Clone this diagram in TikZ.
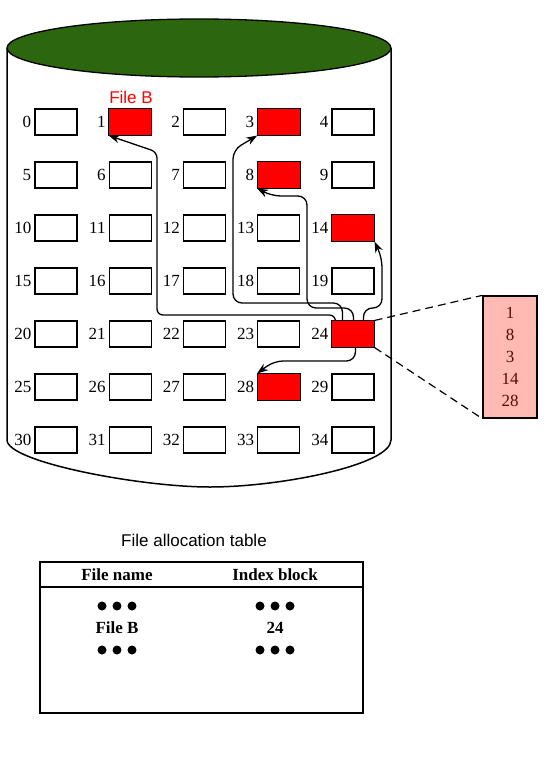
\documentclass[tikz,border=0pt]{standalone}
\usepackage{fontspec}
\setmainfont{Liberation Serif}
\newfontfamily\sansf{Liberation Sans}
\usetikzlibrary{arrows.meta}
\definecolor{topgreen}{RGB}{44,102,14}
\definecolor{pinkfill}{RGB}{255,186,180}
\definecolor{maroon}{RGB}{90,8,8}
\begin{document}
\begin{tikzpicture}[x=1pt,y=-1pt,
  cell/.style={draw=black, line width=1.1pt, minimum width=42pt, minimum height=26pt, inner sep=0pt, fill=white},
  num/.style={anchor=east, inner sep=0pt, font=\fontsize{17}{17}\selectfont},
  link/.style={line width=1.3pt, rounded corners=9pt, -{Stealth[length=11pt,width=8pt]}},
  dashlink/.style={line width=1.2pt, dash pattern=on 8pt off 5pt},
  bold17/.style={font=\bfseries\fontsize{17}{17}\selectfont},
  dot/.style={fill=black}
]
\useasboundingbox (0,0) rectangle (551,771);
% cylinder body
\draw[line width=1.5pt, fill=white] (7,48) -- (7,440)
  .. controls (7,462) and (140,487) .. (210,487)
  .. controls (280,487) and (391,465) .. (391,440) -- (391,48);
\draw[line width=1.3pt, fill=topgreen] (199,48) ellipse [x radius=192, y radius=29];
% cells
\foreach \r in {0,...,6}{\foreach \c in {0,...,4}{
  \pgfmathtruncatemacro{\n}{5*\r+\c}
  \node[cell] (b\n) at ({56+74.25*\c},{122+53*\r}) {};
  \node[num] (l\n) at ([xshift=-3pt]b\n.west) {\n};
}}
\foreach \k in {1,3,8,14,24,28}
  \draw[line width=1.1pt, fill=red] (b\k.south west) rectangle (b\k.north east);
\node[text=red, font=\sansf\fontsize{17}{17}\selectfont] (fb) at (131,97) {File B};
% links
\draw[link, rounded corners=6pt] ([xshift=4pt]b24.north west) |- (157,315) -- (157,152) -- (b1.south west);
\draw[link] ([xshift=11pt]b24.north west) |- (233,303) -- (233,150) -- (b3.south west);
\draw[link] ([xshift=22pt]b24.north west) |- (307,308) -- (307,196) -- (272,196) -- (b8.south west);
\draw[link] ([xshift=32pt]b24.north west) |- (382,308) -- (382,258) -- (b14.south east);
\draw[link] ([xshift=24pt]b24.south west) |- (274,361) -- (b28.north west);
% index block
\node[draw, line width=1.3pt, fill=pinkfill, minimum width=54pt, minimum height=122pt, inner sep=0pt,
  align=center, text=maroon, font=\fontsize{17}{22}\selectfont] (pk) at (510,357) {1\\8\\3\\14\\28};
\draw[dashlink] (b24.north east) -- (pk.north west);
\draw[dashlink] (b24.south east) -- (pk.south west);
% table
\node[font=\sansf\fontsize{17}{17}\selectfont] (title) at (194,540) {File allocation table};
\node[draw, line width=1.6pt, minimum width=323pt, minimum height=151pt, inner sep=0pt] (fat) at (201.5,637.5) {};
\coordinate (hl) at (40,587);
\coordinate (hr) at (363,587);
\draw[line width=1.3pt] (hl) -- (hr);
\node[bold17] (h1) at (117,575) {File name};
\node[bold17] (h2) at (275,575) {Index block};
\node[bold17] (fbn) at (117,628) {File B};
\node[bold17] (n24) at (275,628) {24};
\foreach \y in {606,650}{
  \foreach \x in {102,117,132,260,275,290}
    \fill[dot] (\x,\y) circle (4.5);
}
\end{tikzpicture}
\end{document}
